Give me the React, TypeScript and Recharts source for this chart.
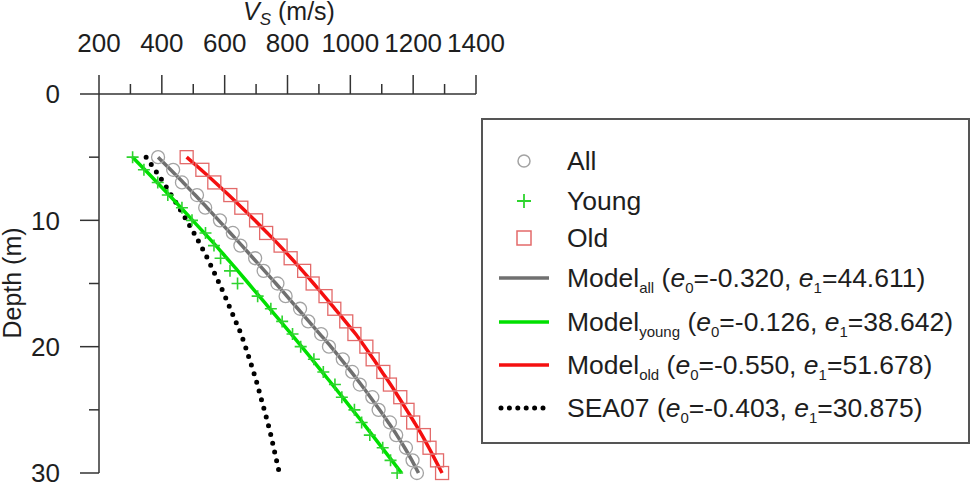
import { ComposedChart, Line, Scatter, XAxis, YAxis, Legend } from "recharts";

// depth of each sample (m)
const depths = [5, 6, 7, 8, 9, 10, 11, 12, 13, 14, 15, 16, 17, 18, 19, 20, 21, 22, 23, 24, 25, 26, 27, 28, 29, 30];

// measured profiles, Vs in m/s (one value per depth)
const vsAll = [388, 436, 464, 512, 538, 585, 626, 650, 697, 724, 768, 794, 840, 866, 907, 932, 976, 1006, 1030, 1070, 1090, 1126, 1146, 1177, 1198, 1212];
const vsYoung = [307, 343, 387, 419, 464, 496, 539, 566, 587, 617, 641, 705, 747, 783, 816, 842, 884, 914, 951, 973, 1013, 1036, 1062, 1103, 1128, 1149];
const vsOld = [479, 529, 567, 618, 653, 700, 732, 778, 810, 853, 880, 921, 949, 987, 1013, 1051, 1071, 1105, 1126, 1159, 1182, 1200, 1234, 1252, 1276, 1292];

// fitted curves
const modelAll = [388, 428, 468, 506, 544, 581, 618, 655, 691, 727, 763, 798, 833, 868, 903, 938, 971, 1003, 1034, 1064, 1093, 1121, 1148, 1173, 1196, 1217];
const modelYoung = [307, 346, 385, 423, 461, 498, 535, 572, 607, 642, 676, 710, 744, 778, 812, 845, 878, 910, 943, 975, 1007, 1039, 1070, 1101, 1132, 1163];
const modelOld = [479, 525, 570, 613, 655, 696, 736, 775, 812, 848, 883, 917, 951, 984, 1017, 1046, 1074, 1101, 1128, 1154, 1179, 1204, 1228, 1250, 1271, 1292];
const sea07 = [350, 378, 405, 430, 455, 479, 502, 524, 545, 564, 583, 601, 618, 635, 652, 666, 679, 692, 704, 715, 726, 737, 747, 756, 765, 774];

const xTicks = [200, 300, 400, 500, 600, 700, 800, 900, 1000, 1100, 1200, 1300, 1400];
const yTicks = [0, 5, 10, 15, 20, 25, 30];

const legendLabels = ["All", "Young", "Old", "Model", "Model", "Model", "SEA07"];
const legendSubs = ["", "", "", "all", "young", "old", ""];
const e0Values = ["", "", "", "-0.320", "-0.126", "-0.550", "-0.403"];
const e1Values = ["", "", "", "44.611", "38.642", "51.678", "30.875"];

const FONT = '"Liberation Sans", Arial, sans-serif';
const INK = "#1e1e1e";
const AXIS = "#333";
const GRAY = "#707070";
const GREEN = "#00e000";
const RED = "#f41010";
const CIRCLE = "#a3a3a3";
const PLUS = "#2ed42e";
const SQUARE = "#e36a6a";

// row centres inside the legend box
const legendRows = [43, 83, 120, 160, 204, 247, 290];

const pts = (vs: number[]) => depths.map((z, i) => ({ v: vs[i], z }));

function XTick({ x, y, payload }: any) {
    const major = payload.value % 200 === 0;
    return (
        <g>
            <line x1={x} x2={x} y1={y} y2={y - (major ? 19 : 10)} stroke={AXIS} strokeWidth={1.5} />
            {major && (
                <text x={x} y={y - 42} textAnchor="middle" fontSize={26} fill={INK}>
                    {payload.value}
                </text>
            )}
        </g>
    );
}

function YTick({ x, y, payload }: any) {
    const major = payload.value % 10 === 0;
    return (
        <g>
            <line x1={x} x2={x - (major ? 19 : 10)} y1={y} y2={y} stroke={AXIS} strokeWidth={1.5} />
            {major && (
                <text x={x - 39} y={y} dy="0.36em" textAnchor="end" fontSize={26} fill={INK}>
                    {payload.value}
                </text>
            )}
        </g>
    );
}

function XTitle() {
    return (
        <text x={289} y={20} textAnchor="middle" fontSize={25} fill={INK}>
            <tspan fontStyle="italic">V</tspan>
            <tspan fontSize={17} fontStyle="italic" dy={5}>S</tspan>
            <tspan dy={-5}>{"\u00a0(m/s)"}</tspan>
        </text>
    );
}

function YTitle() {
    return (
        <text transform="translate(21,283) rotate(-90)" textAnchor="middle" fontSize={25} fill={INK}>
            Depth (m)
        </text>
    );
}

function LegendSymbol({ kind, cy }: { kind: number; cy: number }) {
    if (kind === 0) return <circle cx={43} cy={cy} r={6} fill="none" stroke={CIRCLE} strokeWidth={1.5} />;
    if (kind === 1)
        return <path d={`M36,${cy}h14M43,${cy - 7}v14`} stroke={PLUS} strokeWidth={1.8} />;
    if (kind === 2)
        return <rect x={36} y={cy - 7} width={14} height={14} fill="none" stroke={SQUARE} strokeWidth={1.5} />;
    if (kind === 6)
        return (
            <line x1={20} x2={62} y1={cy} y2={cy} stroke="#000" strokeWidth={5}
                strokeDasharray="0 8.4" strokeLinecap="round" />
        );
    const color = kind === 3 ? GRAY : kind === 4 ? GREEN : RED;
    return <line x1={18} x2={68} y1={cy} y2={cy} stroke={color} strokeWidth={3.5} />;
}

function LegendBox() {
    return (
        <svg width={489} height={326} style={{ display: "block", fontFamily: FONT }}>
            <rect x={1} y={1} width={487} height={324} fill="#fff" stroke="#555" strokeWidth={2} />
            {legendLabels.map((label, i) => {
                const cy = legendRows[i];
                return (
                    <g key={i}>
                        <LegendSymbol kind={i} cy={cy} />
                        <text x={86} y={cy + 9} fontSize={26.5} fill={INK}>
                            {label}
                            {legendSubs[i] && (
                                <tspan fontSize={15} dy={6}>{legendSubs[i]}</tspan>
                            )}
                            {e0Values[i] && (
                                <>
                                    <tspan dy={legendSubs[i] ? -6 : 0}>{"\u00a0("}</tspan>
                                    <tspan fontStyle="italic">e</tspan>
                                    <tspan fontSize={15} dy={6}>0</tspan>
                                    <tspan dy={-6}>{`=${e0Values[i]},\u00a0`}</tspan>
                                    <tspan fontStyle="italic">e</tspan>
                                    <tspan fontSize={15} dy={6}>1</tspan>
                                    <tspan dy={-6}>{`=${e1Values[i]})`}</tspan>
                                </>
                            )}
                        </text>
                    </g>
                );
            })}
        </svg>
    );
}

const circleShape = (p: any) => (
    <circle cx={p.cx} cy={p.cy} r={6.5} fill="none" stroke={CIRCLE} strokeWidth={1.3} />
);
const plusShape = (p: any) => (
    <path d={`M${p.cx - 6},${p.cy}h12M${p.cx},${p.cy - 6}v12`} stroke={PLUS} strokeWidth={1.6} fill="none" />
);
const squareShape = (p: any) => (
    <rect x={p.cx - 6.5} y={p.cy - 6.5} width={13} height={13} fill="none" stroke={SQUARE} strokeWidth={1.3} />
);

export default function App() {
    return (
        <div style={{ position: "absolute", left: 0, top: 0, width: 972, height: 484, background: "#fff", fontFamily: FONT }}>
            <ComposedChart width={972} height={484} margin={{ top: 0, right: 496, bottom: 11, left: 0 }}>
                <XAxis
                    type="number"
                    dataKey="v"
                    orientation="top"
                    domain={[200, 1400]}
                    ticks={xTicks}
                    interval={0}
                    height={94}
                    tickSize={0}
                    tickMargin={0}
                    tick={<XTick />}
                    tickLine={false}
                    axisLine={{ stroke: AXIS, strokeWidth: 1.5 }}
                    label={<XTitle />}
                />
                <YAxis
                    type="number"
                    dataKey="z"
                    domain={[0, 30]}
                    reversed
                    ticks={yTicks}
                    interval={0}
                    width={99}
                    tickSize={0}
                    tickMargin={0}
                    tick={<YTick />}
                    tickLine={false}
                    axisLine={{ stroke: AXIS, strokeWidth: 1.5 }}
                    label={<YTitle />}
                />
                <Scatter data={pts(vsAll)} shape={circleShape} isAnimationActive={false} />
                <Scatter data={pts(vsYoung)} shape={plusShape} isAnimationActive={false} />
                <Scatter data={pts(vsOld)} shape={squareShape} isAnimationActive={false} />
                <Line data={pts(sea07)} dataKey="z" type="monotone" stroke="#000" strokeWidth={5}
                    strokeDasharray="0 9" strokeLinecap="round" dot={false} isAnimationActive={false} />
                <Line data={pts(modelYoung)} dataKey="z" type="monotone" stroke={GREEN} strokeWidth={3.5}
                    dot={false} isAnimationActive={false} />
                <Line data={pts(modelAll)} dataKey="z" type="monotone" stroke={GRAY} strokeWidth={3.5}
                    dot={false} isAnimationActive={false} />
                <Line data={pts(modelOld)} dataKey="z" type="monotone" stroke={RED} strokeWidth={3.5}
                    dot={false} isAnimationActive={false} />
                <Legend
                    content={<LegendBox />}
                    layout="vertical"
                    align="center"
                    verticalAlign="middle"
                    wrapperStyle={{ left: 481, top: 118, width: 489, height: 326 }}
                />
            </ComposedChart>
        </div>
    );
}
